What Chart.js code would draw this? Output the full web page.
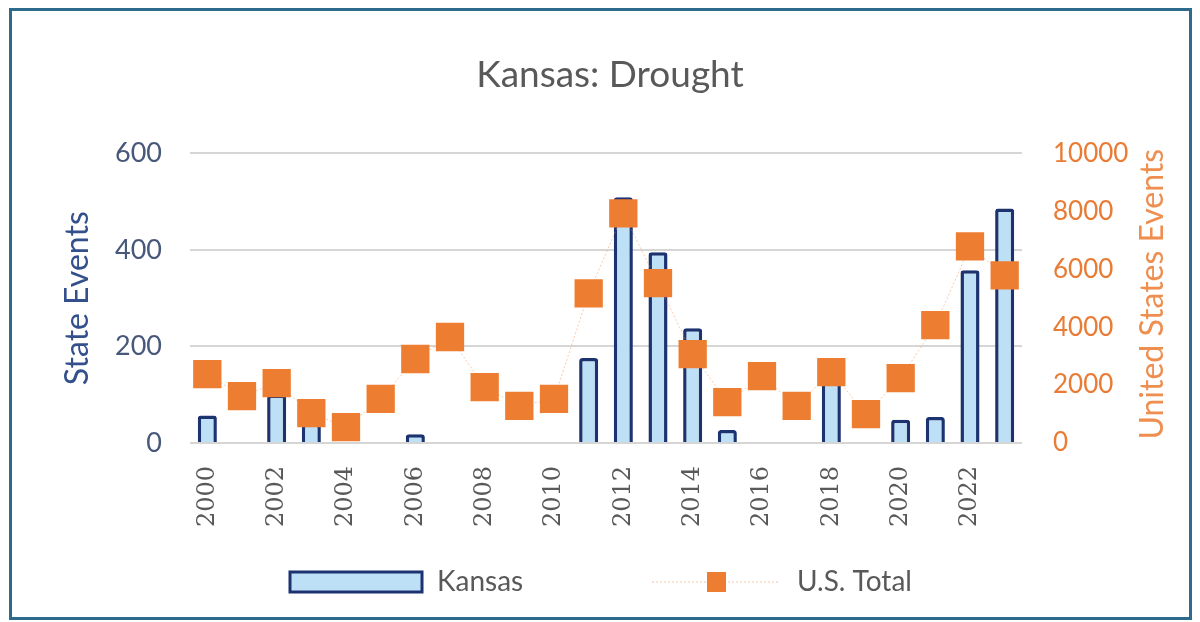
<!DOCTYPE html>
<html>
<head>
<meta charset="utf-8">
<script src="https://cdn.jsdelivr.net/npm/chart.js@4.4.1/dist/chart.umd.min.js"></script>
<style>
  html, body { margin: 0; padding: 0; background: #fff; }
  #wrap { position: relative; width: 1200px; height: 622px; }
  #frame {
    position: absolute; left: 9px; top: 8px; width: 1183px; height: 612px;
    box-sizing: border-box; border: 3px solid #2d6b8d; pointer-events: none;
  }
</style>
</head>
<body>
<div id="wrap">
  <canvas id="droughtChart" width="1200" height="622"></canvas>
  <div id="frame"></div>
</div>
<script>
const years = ["2000", "2001", "2002", "2003", "2004", "2005", "2006", "2007", "2008", "2009", "2010", "2011",
  "2012", "2013", "2014", "2015", "2016", "2017", "2018", "2019", "2020", "2021", "2022", "2023"];
const kansasEvents = [57, 0, 100, 40, 0, 0, 18, 0, 0, 0, 0, 176, 509, 395, 238, 27, 0, 0, 135, 0, 48, 54, 358, 486];
const usTotalEvents = [2380, 1620, 2070, 1030, 550, 1520, 2900, 3660, 1930, 1280, 1520, 5170,
  7930, 5520, 3070, 1410, 2310, 1280, 2450, 1000, 2240, 4070, 6790, 5790];
const stateTicks = [0, 200, 400, 600];
const usTicks = [0, 2000, 4000, 6000, 8000, 10000];

const NAVY = "#1c3370";
const LIGHT_BLUE = "#bde0f7";
const ORANGE = "#ed7d31";
const GRAY = "#595959";

Chart.defaults.font.family = "Lato";

// right axis title reads bottom-to-top + custom legend row
const extras = {
  id: "extras",
  afterDraw(chart) {
    const ctx = chart.ctx;
    const area = chart.chartArea;
    ctx.save();

    ctx.translate(area.right + 131, (area.top + area.bottom) / 2 - 4);
    ctx.rotate(-Math.PI / 2);
    ctx.font = "32px Lato";
    ctx.fillStyle = "#ee8f50";
    ctx.textAlign = "center";
    ctx.textBaseline = "middle";
    ctx.fillText("United States Events", 0, 0);
    ctx.setTransform(1, 0, 0, 1, 0, 0);

    const ly = 582;
    ctx.fillStyle = LIGHT_BLUE;
    ctx.fillRect(290, 572, 132, 20);
    ctx.strokeStyle = NAVY;
    ctx.lineWidth = 3;
    ctx.strokeRect(290, 572, 132, 20);

    ctx.font = "28px Lato";
    ctx.fillStyle = GRAY;
    ctx.textAlign = "left";
    ctx.textBaseline = "middle";
    ctx.fillText("Kansas", 437, ly);

    ctx.strokeStyle = "rgba(240,140,80,0.5)";
    ctx.lineWidth = 1;
    ctx.setLineDash([2, 2]);
    ctx.beginPath();
    ctx.moveTo(652, ly);
    ctx.lineTo(780, ly);
    ctx.stroke();
    ctx.setLineDash([]);
    ctx.fillStyle = ORANGE;
    ctx.fillRect(707, ly - 10, 19, 20);

    ctx.fillStyle = GRAY;
    ctx.fillText("U.S. Total", 797, ly);
    ctx.restore();
  },
};

new Chart(document.getElementById("droughtChart").getContext("2d"), {
  data: {
    labels: years,
    datasets: [{
      type: "line",
      label: "U.S. Total",
      data: usTotalEvents,
      yAxisID: "y1",
      order: 0,
      borderColor: "rgba(240,140,80,0.45)",
      borderWidth: 1,
      borderDash: [2, 2],
      pointStyle: "rect",
      pointRadius: 20,
      pointBorderWidth: 0,
      pointBackgroundColor: ORANGE,
      tension: 0,
    }, {
      type: "bar",
      label: "Kansas",
      data: kansasEvents,
      yAxisID: "y",
      order: 1,
      backgroundColor: LIGHT_BLUE,
      borderColor: NAVY,
      borderWidth: 3.5,
      borderRadius: 3,
      barPercentage: 0.55,
      categoryPercentage: 1,
    }],
  },
  options: {
    responsive: false,
    animation: false,
    layout: {
      padding: { top: 20, left: 20, right: 0, bottom: 79 },
    },
    plugins: {
      legend: { display: false },
      tooltip: { enabled: false },
      title: {
        display: true,
        text: "Kansas: Drought",
        color: GRAY,
        font: { size: 37, weight: "normal" },
        padding: { top: 33, bottom: 56 },
      },
    },
    scales: {
      x: {
        grid: { display: false },
        border: { display: false },
        ticks: {
          autoSkip: false,
          minRotation: 90,
          maxRotation: 90,
          padding: 15,
          color: GRAY,
          font: { family: "DejaVu Serif", size: 24 },
          callback: (value, index) => (index % 2 === 0 ? years[index] : ""),
        },
        afterFit: (scale) => { scale.height = 100; },
      },
      y: {
        position: "left",
        min: 0,
        max: 600,
        afterBuildTicks: (scale) => { scale.ticks = stateTicks.map((v) => ({ value: v })); },
        grid: { color: "#d6d6d6", lineWidth: 2, drawTicks: false },
        border: { display: false },
        ticks: { padding: 28, color: "#48587a", font: { size: 27 } },
        title: {
          display: true,
          text: "State Events",
          color: "#34508c",
          font: { size: 32 },
          padding: { top: 38, bottom: 10 },
        },
        afterFit: (scale) => { scale.width = 170; },
      },
      y1: {
        position: "right",
        min: 0,
        max: 10000,
        afterBuildTicks: (scale) => { scale.ticks = usTicks.map((v) => ({ value: v })); },
        grid: { display: false, drawTicks: false },
        border: { display: false },
        ticks: {
          padding: 31,
          color: "#e97b34",
          font: { size: 26 },
          callback: (value) => String(value),
        },
        afterFit: (scale) => { scale.width = 178; },
      },
    },
  },
  plugins: [extras],
});
</script>
</body>
</html>
